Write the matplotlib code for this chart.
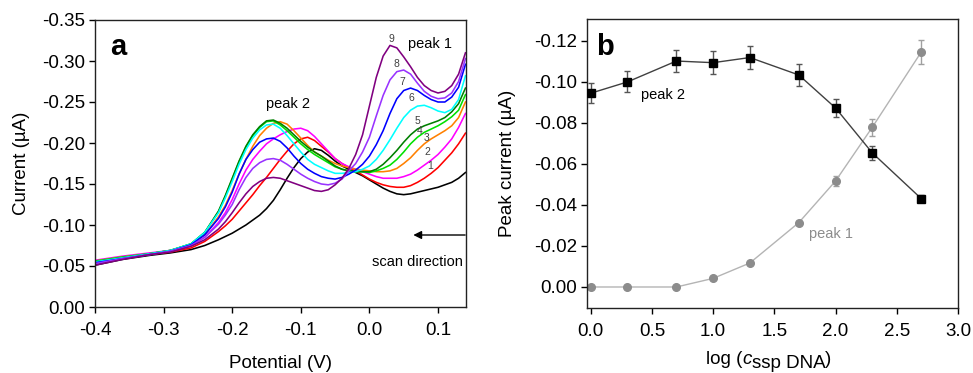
import matplotlib
matplotlib.use("Agg")
import matplotlib.pyplot as plt

plt.rcParams['font.family'] = ['Liberation Sans', 'DejaVu Sans']
plt.rcParams['axes.unicode_minus'] = False

# ---------------- Panel a data ----------------
potential = [-0.40, -0.36, -0.32, -0.29, -0.26, -0.24, -0.22, -0.21, -0.20, -0.19,
             -0.18, -0.17, -0.16, -0.15, -0.14, -0.13, -0.12, -0.11, -0.10, -0.09,
             -0.08, -0.07, -0.06, -0.05, -0.04, -0.03, -0.02, -0.01, 0.00, 0.01,
             0.02, 0.03, 0.04, 0.05, 0.06, 0.07, 0.08, 0.09, 0.10, 0.11,
             0.12, 0.13, 0.14]

curve0 = [-0.051, -0.058, -0.063, -0.066, -0.070, -0.075, -0.082, -0.086, -0.090, -0.095,
          -0.100, -0.106, -0.112, -0.120, -0.130, -0.143, -0.157, -0.170, -0.181, -0.189,
          -0.193, -0.191, -0.185, -0.178, -0.172, -0.168, -0.164, -0.160, -0.155, -0.150,
          -0.145, -0.141, -0.138, -0.137, -0.138, -0.140, -0.142, -0.144, -0.146, -0.149,
          -0.152, -0.157, -0.164]
curve1 = [-0.054, -0.059, -0.064, -0.067, -0.072, -0.080, -0.092, -0.099, -0.107, -0.117,
          -0.127, -0.137, -0.148, -0.158, -0.169, -0.180, -0.190, -0.199, -0.205, -0.207,
          -0.203, -0.196, -0.189, -0.181, -0.175, -0.170, -0.166, -0.161, -0.156, -0.152,
          -0.149, -0.147, -0.146, -0.146, -0.148, -0.152, -0.157, -0.163, -0.170, -0.179,
          -0.188, -0.199, -0.212]
curve2 = [-0.057, -0.062, -0.066, -0.069, -0.075, -0.085, -0.103, -0.115, -0.131, -0.150,
          -0.167, -0.180, -0.190, -0.199, -0.205, -0.210, -0.214, -0.217, -0.218, -0.215,
          -0.208, -0.199, -0.190, -0.181, -0.175, -0.171, -0.168, -0.165, -0.162, -0.159,
          -0.157, -0.157, -0.157, -0.159, -0.162, -0.167, -0.173, -0.179, -0.186, -0.195,
          -0.205, -0.219, -0.236]
curve3 = [-0.056, -0.061, -0.065, -0.069, -0.076, -0.088, -0.110, -0.124, -0.142, -0.162,
          -0.180, -0.196, -0.209, -0.218, -0.224, -0.226, -0.223, -0.215, -0.206, -0.197,
          -0.189, -0.184, -0.179, -0.175, -0.172, -0.170, -0.168, -0.167, -0.166, -0.165,
          -0.165, -0.166, -0.169, -0.175, -0.182, -0.191, -0.199, -0.205, -0.210, -0.215,
          -0.221, -0.231, -0.250]
curve4 = [-0.056, -0.061, -0.065, -0.069, -0.077, -0.091, -0.116, -0.135, -0.156, -0.177,
          -0.195, -0.209, -0.219, -0.226, -0.227, -0.222, -0.215, -0.207, -0.199, -0.192,
          -0.186, -0.181, -0.176, -0.171, -0.168, -0.166, -0.165, -0.165, -0.164, -0.166,
          -0.169, -0.173, -0.180, -0.189, -0.199, -0.207, -0.213, -0.217, -0.221, -0.226,
          -0.232, -0.240, -0.259]
curve5 = [-0.055, -0.060, -0.065, -0.069, -0.077, -0.091, -0.117, -0.136, -0.157, -0.178,
          -0.196, -0.210, -0.220, -0.227, -0.228, -0.224, -0.218, -0.210, -0.202, -0.195,
          -0.189, -0.184, -0.178, -0.172, -0.168, -0.166, -0.165, -0.165, -0.165, -0.168,
          -0.174, -0.182, -0.191, -0.201, -0.210, -0.217, -0.221, -0.224, -0.227, -0.231,
          -0.238, -0.248, -0.267]
curve6 = [-0.055, -0.060, -0.065, -0.069, -0.077, -0.091, -0.115, -0.133, -0.153, -0.174,
          -0.192, -0.206, -0.216, -0.222, -0.223, -0.218, -0.209, -0.199, -0.189, -0.180,
          -0.174, -0.170, -0.166, -0.163, -0.163, -0.164, -0.165, -0.168, -0.172, -0.180,
          -0.191, -0.204, -0.218, -0.231, -0.240, -0.245, -0.246, -0.243, -0.239, -0.237,
          -0.241, -0.253, -0.282]
curve7 = [-0.054, -0.059, -0.064, -0.068, -0.076, -0.088, -0.108, -0.122, -0.140, -0.162,
          -0.180, -0.192, -0.201, -0.205, -0.206, -0.202, -0.194, -0.184, -0.175, -0.168,
          -0.163, -0.159, -0.157, -0.156, -0.158, -0.162, -0.167, -0.174, -0.184, -0.198,
          -0.215, -0.236, -0.254, -0.264, -0.267, -0.264, -0.258, -0.253, -0.250, -0.250,
          -0.256, -0.268, -0.296]
curve8 = [-0.053, -0.059, -0.064, -0.068, -0.075, -0.085, -0.101, -0.112, -0.125, -0.143,
          -0.158, -0.169, -0.176, -0.180, -0.181, -0.179, -0.174, -0.168, -0.162, -0.157,
          -0.153, -0.150, -0.149, -0.151, -0.156, -0.166, -0.175, -0.189, -0.207, -0.233,
          -0.258, -0.277, -0.287, -0.289, -0.284, -0.273, -0.263, -0.257, -0.254, -0.255,
          -0.261, -0.275, -0.303]
curve9 = [-0.051, -0.058, -0.064, -0.067, -0.074, -0.082, -0.095, -0.104, -0.115, -0.127,
          -0.138, -0.147, -0.153, -0.157, -0.158, -0.157, -0.154, -0.151, -0.148, -0.145,
          -0.142, -0.141, -0.143, -0.149, -0.157, -0.169, -0.186, -0.210, -0.245, -0.280,
          -0.306, -0.319, -0.316, -0.305, -0.293, -0.280, -0.270, -0.264, -0.261, -0.263,
          -0.270, -0.284, -0.310]

curves = [curve0, curve1, curve2, curve3, curve4, curve5, curve6, curve7, curve8, curve9]
curve_colors = ['#000000', '#ff0000', '#ff00ff', '#ff8000', '#00e000',
                '#008000', '#00ffff', '#0000ff', '#9933ff', '#800080']
curve_labels = ['1', '2', '3', '4', '5', '6', '7', '8', '9']
label_x = [0.0883, 0.0845, 0.0835, 0.0738, 0.0704, 0.0606, 0.048, 0.0398, 0.0325]
label_y = [-0.172, -0.1894, -0.2065, -0.2146, -0.227, -0.2545, -0.2748, -0.296, -0.327]

# ---------------- Panel b data ----------------
log_c = [0.0, 0.3, 0.7, 1.0, 1.3, 1.7, 2.0, 2.3, 2.7]
peak2 = [-0.0945, -0.100, -0.1102, -0.1094, -0.1119, -0.1034, -0.0873, -0.0654, -0.0431]
peak2_err = [0.0049, 0.0051, 0.0055, 0.0055, 0.0057, 0.0053, 0.0045, 0.0034, 0.0018]
peak1 = [0.0, 0.0, 0.0, -0.0042, -0.0117, -0.0314, -0.0517, -0.0779, -0.1146]
peak1_err = [0.0003, 0.0003, 0.0003, 0.0005, 0.0007, 0.0010, 0.0026, 0.0041, 0.0057]

fig = plt.figure(figsize=(9.73, 3.73), dpi=100)

# ---------------- Panel a ----------------
axa = fig.add_axes([95/973, 1-307/373, (466-95)/973, (307-20)/373])
for c, col in zip(curves, curve_colors):
    axa.plot(potential, c, color=col, lw=1.15)
axa.set_xlim(-0.4, 0.1408)
axa.set_ylim(0.0, -0.35)
axa.set_xticks([-0.4, -0.3, -0.2, -0.1, 0.0, 0.1])
axa.set_xticklabels(['-0.4', '-0.3', '-0.2', '-0.1', '0.0', '0.1'])
yt = [0.00, -0.05, -0.10, -0.15, -0.20, -0.25, -0.30, -0.35]
axa.set_yticks(yt)
axa.set_yticklabels(['0.00', '-0.05', '-0.10', '-0.15', '-0.20', '-0.25', '-0.30', '-0.35'])
axa.tick_params(labelsize=13.5, direction='out', length=4, width=1, pad=3)
axa.tick_params(axis='x', pad=7)
axa.set_xlabel('Potential (V)', fontsize=13.5, labelpad=11)
axa.set_ylabel('Current (µA)', fontsize=13.5, labelpad=9)
for t, x, y in zip(curve_labels, label_x, label_y):
    axa.text(x, y, t, fontsize=7.5, color='#404040', ha='center', va='center')
axa.text(0.088, -0.3205, 'peak 1', fontsize=10.5, ha='center', va='center')
axa.text(-0.118, -0.248, 'peak 2', fontsize=10.5, ha='center', va='center')
axa.text(0.0703, -0.0545, 'scan direction', fontsize=10.5, ha='center', va='center')
axa.annotate('', xy=(0.064, -0.0878), xytext=(0.1395, -0.0878),
             arrowprops=dict(arrowstyle='-|>', color='black', lw=1.0,
                             mutation_scale=12, shrinkA=0, shrinkB=0))
axa.text(-0.366, -0.3175, 'a', fontsize=21, fontweight='bold', ha='center', va='center')

# ---------------- Panel b ----------------
axb = fig.add_axes([587/973, 1-307.5/373, (958-587)/973, (307.5-19)/373])
axb.errorbar(log_c, peak1, yerr=peak1_err, color='#b4b4b4', lw=1.0, marker='o',
             markersize=5.5, markerfacecolor='#8c8c8c', markeredgecolor='#8c8c8c',
             ecolor='#a0a0a0', elinewidth=1.0, capsize=2.5, zorder=2)
axb.errorbar(log_c, peak2, yerr=peak2_err, color='#404040', lw=1.0, marker='s',
             markersize=5.5, markerfacecolor='black', markeredgecolor='black',
             ecolor='#555555', elinewidth=1.0, capsize=2.5, zorder=3)
axb.set_xlim(-0.03, 3.0)
axb.set_ylim(0.01, -0.1307)
axb.set_xticks([0.0, 0.5, 1.0, 1.5, 2.0, 2.5, 3.0])
axb.set_xticklabels(['0.0', '0.5', '1.0', '1.5', '2.0', '2.5', '3.0'])
ytb = [0.00, -0.02, -0.04, -0.06, -0.08, -0.10, -0.12]
axb.set_yticks(ytb)
axb.set_yticklabels(['0.00', '-0.02', '-0.04', '-0.06', '-0.08', '-0.10', '-0.12'])
axb.set_ylabel('Peak current (µA)', fontsize=13.5, labelpad=13)
axb.tick_params(labelsize=13.5, direction='out', length=4, width=1, pad=3)
axb.tick_params(axis='x', pad=7)
axb.text(0.59, -0.0937, 'peak 2', fontsize=10.5, ha='center', va='center')
axb.text(1.96, -0.026, 'peak 1', fontsize=10.5, color='#8c8c8c', ha='center', va='center')
axb.text(0.115, -0.117, 'b', fontsize=21, fontweight='bold', ha='center', va='center')

# x label of panel b with italic c and subscript
t1 = fig.text(706/973, (373-364)/373, 'log (', fontsize=13.5, ha='left', va='baseline')
t2 = axb.annotate('c', xy=(1, 0), xycoords=t1, fontsize=13.5, style='italic',
                  ha='left', va='bottom', annotation_clip=False)
t3 = axb.annotate('ssp DNA', xy=(1, 0), xycoords=t2, xytext=(0, -3),
                  textcoords='offset points', fontsize=13.5, ha='left', va='bottom',
                  annotation_clip=False)
t4 = axb.annotate(')', xy=(1, 0), xycoords=t3, xytext=(0, 3),
                  textcoords='offset points', fontsize=13.5, ha='left', va='bottom',
                  annotation_clip=False)

for ax in (axa, axb):
    for s in ax.spines.values():
        s.set_linewidth(1.0)
        s.set_color('#222222')

fig.savefig('out.png', dpi=100)
